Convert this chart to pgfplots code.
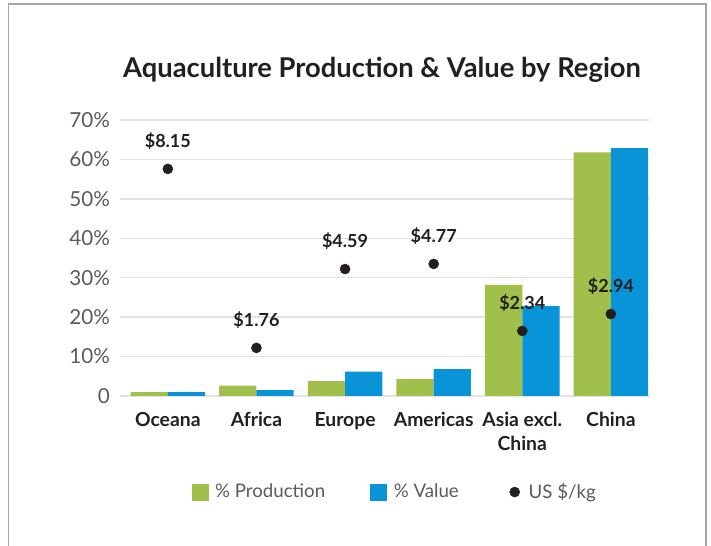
\documentclass[border=0pt]{standalone}
\usepackage{fontspec}
\setmainfont{Lato}
\usepackage{pgfplots}
\pgfplotsset{compat=1.18}
\definecolor{cgreen}{RGB}{161,192,75}
\definecolor{cblue}{RGB}{8,148,214}
\definecolor{cdot}{RGB}{35,31,32}
\definecolor{cgrid}{RGB}{226,226,226}
\definecolor{ctick}{RGB}{90,90,90}
\definecolor{cframe}{RGB}{165,165,165}
\begin{document}
\begin{tikzpicture}[x=0.75pt,y=0.75pt]
\begin{axis}[
  name=ax,
  scale only axis, width=396.75pt, height=207pt,
  xmin=-0.54, xmax=5.43, ymin=0, ymax=70,
  xtick={0,...,5},
  xticklabels={Oceana,Africa,Europe,Americas,{Asia excl.\\China},China},
  xticklabel style={align=center, font=\bfseries\fontsize{14.5}{18}\selectfont, text=cdot, yshift=-8.5pt},
  ytick={0,10,...,70},
  yticklabels={0,10\%,20\%,30\%,40\%,50\%,60\%,70\%},
  yticklabel style={font=\fontsize{15.5}{17}\selectfont, text=ctick, xshift=-4pt},
  ymajorgrids, major grid style={cgrid, line width=1.1pt},
  axis line style={draw=none}, major tick length=0pt,
  legend style={at={(0.52,-0.348)}, anchor=center, draw=none, fill=none,
    font=\fontsize{14}{16}\selectfont, text=ctick, legend columns=3,
    /tikz/every even column/.append style={column sep=32pt},
    legend cell align=left},
]
\addplot[fill=cgreen, draw=none, ybar, bar width=0.42, bar shift=-0.21,
  legend image code/.code={\fill[cgreen] (0pt,-6.4pt) rectangle (12.75pt,6.35pt); \path (15.5pt,0pt);}]
  coordinates {(0,1.0) (1,2.6) (2,3.8) (3,4.3) (4,28.2) (5,61.8)};
\addlegendentry{\% Production}
\addplot[fill=cblue, draw=none, ybar, bar width=0.42, bar shift=0.21,
  legend image code/.code={\fill[cblue] (0pt,-6.4pt) rectangle (12.75pt,6.35pt); \path (15.5pt,0pt);}]
  coordinates {(0,1.0) (1,1.5) (2,6.2) (3,6.8) (4,22.8) (5,62.9)};
\addlegendentry{\% Value}
\addplot[only marks, mark=*, mark size=3.75pt, color=cdot,
  point meta=explicit symbolic,
  nodes near coords={\$\pgfplotspointmeta},
  nodes near coords style={anchor=center, yshift=21pt, font=\bfseries\fontsize{13.5}{16}\selectfont, text=cdot},
  legend image code/.code={\path (-4pt,0pt); \fill[cdot] (3.75pt,0pt) circle (3.75pt); \path (12pt,0pt);}]
  table[meta=lbl] {
x y lbl
0 57.6 8.15
1 12.2 1.76
2 32.2 4.59
3 33.5 4.77
4 16.5 2.34
5 20.8 2.94
};
\addlegendentry{US \$/kg}
\end{axis}
\begin{scope}[shift={(ax.south west)}]
\draw[cframe, line width=1.1pt] (-111.5,-152) -- (-111.5,392) -- (586,392) -- (586,-152);
\node[font=\bfseries\fontsize{20.5}{23}\selectfont, text=cdot] at (262,326) {Aquaculture Production \& Value by Region};
\end{scope}
\pgfresetboundingbox
\useasboundingbox ([shift={(-120,-150)}]ax.south west) rectangle ([shift={(591,396)}]ax.south west);
\end{tikzpicture}
\end{document}
